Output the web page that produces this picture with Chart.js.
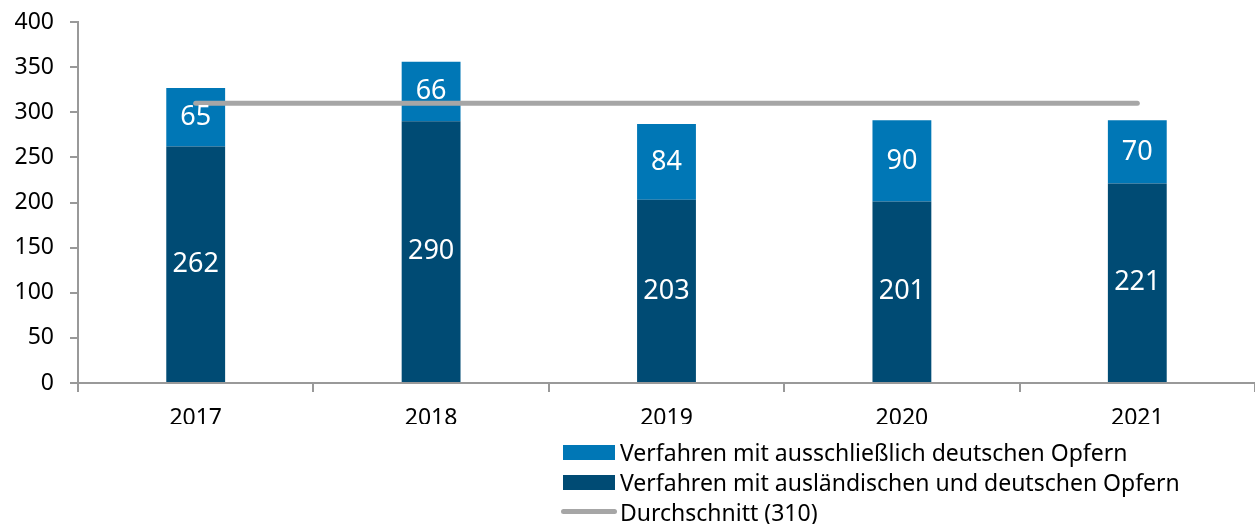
<!DOCTYPE html>
<html><head><meta charset="utf-8">
<script src="https://cdn.jsdelivr.net/npm/chart.js@4/dist/chart.umd.min.js"></script>
<style>
html,body{margin:0;padding:0;background:#fff;}
#wrap{position:relative;width:1255px;height:524px;}
#c{position:absolute;left:0;top:0;}
.leg{position:absolute;left:563px;font-family:"Noto Sans",sans-serif;font-size:23px;color:#000;line-height:30px;}
.row{position:absolute;left:0;white-space:nowrap;height:30px;}
.box{position:absolute;left:0;top:8px;width:52px;height:15px;}
.ln{position:absolute;left:-2px;top:12px;width:56px;height:5px;border-radius:3px;background:#a6a6a6;}
.txt{position:absolute;left:57px;top:0;}
</style></head>
<body>
<div id="wrap">
<canvas id="c" width="1255" height="524"></canvas>
<div class="leg" id="legend" style="top:437px"></div>
</div>
<script>
const categories = ["2017","2018","2019","2020","2021"];
const foreignAndGerman = [262,290,203,201,221];
const onlyGerman = [65,66,84,90,70];
const average = [310,310,310,310,310];
const seriesNames = ["Verfahren mit ausschließlich deutschen Opfern","Verfahren mit ausländischen und deutschen Opfern","Durchschnitt (310)"];
const yTicks = [0,50,100,150,200,250,300,350,400];

const FONT = '"Noto Sans", sans-serif';
const DARK = '#004b74', LIGHT = '#0077b6', GREY = '#a6a6a6';

const labelPlugin = {
  id:'barLabels',
  afterDatasetsDraw(chart){
    const ctx = chart.ctx;
    ctx.save();
    ctx.fillStyle = '#fff';
    ctx.font = '27px ' + FONT;
    ctx.textAlign = 'center';
    ctx.textBaseline = 'middle';
    chart.data.datasets.forEach((ds,i)=>{
      if(ds.type !== 'bar') return;
      chart.getDatasetMeta(i).data.forEach((el,j)=>{
        const p = el.getCenterPoint();
        ctx.fillText(String(ds.data[j]), p.x, p.y);
      });
    });
    ctx.restore();
  }
};

new Chart(document.getElementById('c'), {
  data:{
    labels: categories,
    datasets:[
      {type:'line', label:seriesNames[2], data:average, borderColor:GREY, borderWidth:5, borderCapStyle:'round', pointRadius:0, stack:'avg', order:0, fill:false},
      {type:'bar', label:seriesNames[1], data:foreignAndGerman, backgroundColor:DARK, stack:'s', order:1, categoryPercentage:1, barPercentage:0.25},
      {type:'bar', label:seriesNames[0], data:onlyGerman, backgroundColor:LIGHT, stack:'s', order:1, categoryPercentage:1, barPercentage:0.25}
    ]
  },
  options:{
    responsive:false,
    animation:false,
    layout:{padding:{top:22,right:0,left:0,bottom:100}},
    plugins:{legend:{display:false},tooltip:{enabled:false}},
    scales:{
      x:{
        stacked:true,
        grid:{display:true,offset:true,drawOnChartArea:false,tickLength:9,color:'#999',lineWidth:2},
        border:{display:true,color:'#999',width:2},
        ticks:{color:'#000',font:{family:FONT,size:23},padding:13},
        afterFit(s){ s.height = 41; s.paddingLeft = 0; s.paddingRight = 0; }
      },
      y:{
        stacked:true,
        min:0,max:400,
        afterBuildTicks(s){ s.ticks = yTicks.map(v=>({value:v})); },
        grid:{display:true,drawOnChartArea:false,tickLength:8,color:'#999',lineWidth:2},
        border:{display:true,color:'#999',width:2},
        ticks:{color:'#000',font:{family:FONT,size:23},padding:16},
        afterFit(s){ s.width = 78; s.paddingTop = 0; s.paddingBottom = 0; }
      }
    }
  },
  plugins:[labelPlugin]
});

const legendItems = [
  {name:seriesNames[0], kind:'box', color:LIGHT},
  {name:seriesNames[1], kind:'box', color:DARK},
  {name:seriesNames[2], kind:'line', color:GREY}
];
const leg = document.getElementById('legend');
legendItems.forEach((it,i)=>{
  const r = document.createElement('div');
  r.className='row'; r.style.top=(i*30)+'px';
  const m = document.createElement('div');
  m.className = it.kind==='box' ? 'box' : 'ln';
  m.style.background = it.color;
  const t = document.createElement('span');
  t.className='txt'; t.textContent = it.name;
  r.appendChild(m); r.appendChild(t);
  leg.appendChild(r);
});
</script>
</body></html>
